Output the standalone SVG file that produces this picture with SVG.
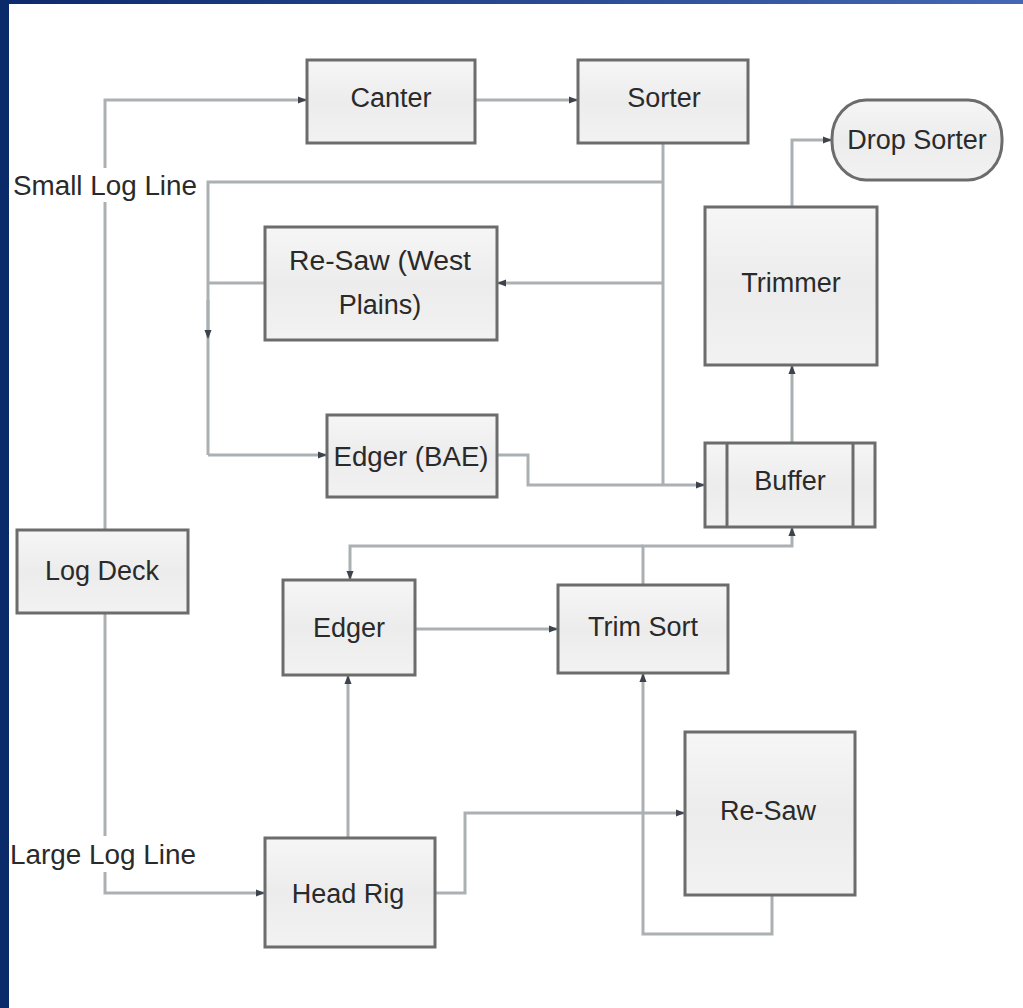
<svg xmlns="http://www.w3.org/2000/svg" width="1023" height="1008" viewBox="0 0 1023 1008">
<defs>
<linearGradient id="topbar" x1="0" y1="0" x2="1" y2="0">
<stop offset="0" stop-color="#0c2a6c"/>
<stop offset="1" stop-color="#4468b4"/>
</linearGradient>
<linearGradient id="boxfill" x1="0" y1="0" x2="0" y2="1">
<stop offset="0" stop-color="#f6f6f6"/>
<stop offset="0.5" stop-color="#ececec"/>
<stop offset="1" stop-color="#f2f2f2"/>
</linearGradient>
<marker id="arr" viewBox="0 0 10 10" refX="9" refY="5" markerWidth="9" markerHeight="9" markerUnits="userSpaceOnUse" orient="auto">
<path d="M0,1 L10,5 L0,9 Z" fill="#3c434c"/>
</marker>
<style>
.box{fill:url(#boxfill);stroke:#6c6c6c;stroke-width:3}
.lbl{font-family:"Liberation Sans",Arial,sans-serif;font-size:27px;fill:#2a2a2a;text-anchor:middle}
.con{fill:none;stroke:#abb0b3;stroke-width:3}
.arr{marker-end:url(#arr)}
</style>
</defs>
<rect x="0" y="0" width="1023" height="1008" fill="#ffffff"/>

<g id="connectors">
<!-- Log Deck to Canter -->
<path class="con arr" d="M105,530 L105,100 L306,100"/>
<!-- Log Deck to Head Rig -->
<path class="con arr" d="M105,613 L105,893 L264,893"/>
<!-- Canter to Sorter -->
<path class="con arr" d="M475,100 L577,100"/>
<!-- Sorter trunk to Buffer -->
<path class="con" d="M663,143 L663,485"/>
<!-- branch to small log line loop -->
<path class="con" d="M663,182 L208,182 L208,455"/>
<path class="con arr" d="M208,300 L208,338"/>
<path class="con arr" d="M208,455 L326,455"/>
<!-- Sorter to Re-Saw (West Plains) -->
<path class="con arr" d="M663,283 L498,283"/>
<!-- Re-Saw (West Plains) to loop -->
<path class="con" d="M265,283 L208,283"/>
<!-- Edger (BAE) to Buffer -->
<path class="con arr" d="M497,455 L528,455 L528,485 L704,485"/>
<!-- Buffer to Trimmer -->
<path class="con arr" d="M792,443 L792,366"/>
<!-- Trimmer to Drop Sorter -->
<path class="con arr" d="M792,207 L792,140 L831,140"/>
<!-- Trim Sort to Buffer / Edger -->
<path class="con arr" d="M643,585 L643,546 L792,546 L792,528"/>
<path class="con arr" d="M643,546 L350,546 L350,579"/>
<!-- Edger to Trim Sort -->
<path class="con arr" d="M415,629 L557,629"/>
<!-- Head Rig to Edger -->
<path class="con arr" d="M348,838 L348,676"/>
<!-- Head Rig to Re-Saw -->
<path class="con arr" d="M435,893 L465,893 L465,813 L684,813"/>
<!-- Re-Saw to Trim Sort -->
<path class="con arr" d="M772,895 L772,934 L643,934 L643,674"/>
</g>

<g id="label-small">
<rect x="12" y="168" width="186" height="34" fill="#ffffff"/>
<text class="lbl" x="105" y="195" textLength="184" lengthAdjust="spacingAndGlyphs">Small Log Line</text>
</g>
<g id="label-large">
<rect x="10" y="836" width="187" height="36" fill="#ffffff"/>
<text class="lbl" x="103" y="864" textLength="186" lengthAdjust="spacingAndGlyphs">Large Log Line</text>
</g>

<g id="canter">
<rect class="box" x="307" y="60" width="168" height="83"/>
<text class="lbl" x="391" y="107">Canter</text>
</g>
<g id="sorter">
<rect class="box" x="578" y="60" width="170" height="83"/>
<text class="lbl" x="664" y="107">Sorter</text>
</g>
<g id="drop-sorter">
<rect class="box" x="832" y="100" width="170" height="80" rx="34" ry="38"/>
<text class="lbl" x="917" y="149">Drop Sorter</text>
</g>
<g id="trimmer">
<rect class="box" x="705" y="207" width="172" height="158"/>
<text class="lbl" x="791" y="292">Trimmer</text>
</g>
<g id="resaw-west">
<rect class="box" x="265" y="227" width="232" height="113"/>
<text class="lbl" x="380" y="270" textLength="182" lengthAdjust="spacingAndGlyphs">Re-Saw (West</text>
<text class="lbl" x="380" y="314">Plains)</text>
</g>
<g id="edger-bae">
<rect class="box" x="327" y="415" width="170" height="82"/>
<text class="lbl" x="411" y="466" textLength="155" lengthAdjust="spacingAndGlyphs">Edger (BAE)</text>
</g>
<g id="buffer">
<rect class="box" x="705" y="443" width="170" height="84"/>
<line x1="727" y1="443" x2="727" y2="527" stroke="#6c6c6c" stroke-width="3"/>
<line x1="853" y1="443" x2="853" y2="527" stroke="#6c6c6c" stroke-width="3"/>
<text class="lbl" x="790" y="490">Buffer</text>
</g>
<g id="log-deck">
<rect class="box" x="17" y="530" width="171" height="83"/>
<text class="lbl" x="102" y="580">Log Deck</text>
</g>
<g id="edger">
<rect class="box" x="283" y="580" width="132" height="95"/>
<text class="lbl" x="349" y="637">Edger</text>
</g>
<g id="trim-sort">
<rect class="box" x="558" y="585" width="170" height="88"/>
<text class="lbl" x="643" y="636">Trim Sort</text>
</g>
<g id="resaw">
<rect class="box" x="685" y="732" width="170" height="163"/>
<text class="lbl" x="768" y="820">Re-Saw</text>
</g>
<g id="head-rig">
<rect class="box" x="265" y="838" width="170" height="109"/>
<text class="lbl" x="348" y="903">Head Rig</text>
</g>

<rect x="0" y="0" width="1023" height="4" fill="url(#topbar)"/>
<rect x="0" y="0" width="9" height="1008" fill="#0b2a6a"/>
</svg>
